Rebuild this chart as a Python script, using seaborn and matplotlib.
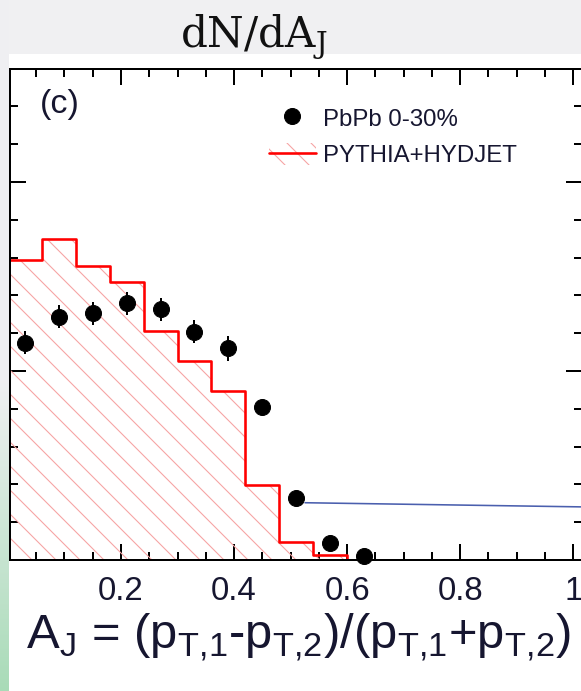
import numpy as np
import pandas as pd
import matplotlib
matplotlib.use("Agg")
import matplotlib.pyplot as plt
import seaborn as sns
from matplotlib.lines import Line2D
from matplotlib.patches import Patch
from matplotlib.ticker import MultipleLocator, FixedLocator, FixedFormatter

# ---------------- data ----------------
bin_edges = [0.0, 0.06, 0.12, 0.18, 0.24, 0.30, 0.36, 0.42, 0.48, 0.54, 0.60, 0.66]
sim_heights = [0.1587, 0.1697, 0.1556, 0.1469, 0.1212, 0.1054, 0.0896, 0.0397, 0.0094, 0.0026, 0.0]
data_x = [0.03, 0.09, 0.15, 0.21, 0.27, 0.33, 0.39, 0.45, 0.51, 0.57, 0.63]
data_y = [0.1150, 0.1287, 0.1305, 0.1358, 0.1326, 0.1208, 0.1120, 0.0808, 0.0326, 0.0092, 0.0021]
data_err = [0.006, 0.006, 0.006, 0.006, 0.006, 0.006, 0.0065, 0.004, 0.003, 0.002, 0.001]
annot_x = [0.5255, 1.0154]
annot_y = [0.0303, 0.0281]
xtick_values = [0.2, 0.4, 0.6, 0.8, 1.0]
xtick_labels = ["0.2", "0.4", "0.6", "0.8", "1"]
legend_labels = ["PbPb 0-30%", "PYTHIA+HYDJET"]
panel_label = "(c)"
title_text = r"dN/dA$_{\mathrm{J}}$"
xlabel_text = (r"A$_{\mathsf{J}}$ = (p$_{\mathsf{T{,}1}}$-p$_{\mathsf{T{,}2}}$)"
               r"/(p$_{\mathsf{T{,}1}}$+p$_{\mathsf{T{,}2}}$)")

# ---------------- style ----------------
sns.set_style("ticks")
plt.rcParams["font.family"] = ["Liberation Sans", "DejaVu Sans"]
plt.rcParams["mathtext.fontset"] = "custom"
plt.rcParams["mathtext.rm"] = "DejaVu Serif"
plt.rcParams["mathtext.sf"] = "Liberation Sans"
plt.rcParams["hatch.linewidth"] = 1.1

W, H, DPI = 581, 691, 72
fig = plt.figure(figsize=(W / DPI, H / DPI), dpi=DPI)

# background (slide decoration)
bg = fig.add_axes([0, 0, 1, 1], zorder=-10)
img = np.ones((H, W, 3))
img[:54, :, :] = (0.945, 0.945, 0.95)
t = np.linspace(0, 1, H)[:, None]
grey = np.array([0.94, 0.94, 0.95])
green = np.array([0.66, 0.86, 0.72])
w = np.clip((t - 0.55) / 0.45, 0, 1)
strip = grey * (1 - w) + green * w
img[:, :9, :] = strip[:, None, :] * np.ones((1, 9, 1))
bg.imshow(img, extent=[0, W, H, 0], aspect="auto", interpolation="bilinear")
bg.set_axis_off()

# main axes: px 10..582 horizontally, 69..560 vertically
ax = fig.add_axes([10 / W, (H - 560) / H, 572 / W, 491 / H])
ax.set_facecolor("white")

df_sim = pd.DataFrame({
    "AJ": [(a + b) / 2 for a, b in zip(bin_edges[:-1], bin_edges[1:])],
    "frac": sim_heights,
})
hatch_col = "#f6a4a4"
sns.histplot(data=df_sim, x="AJ", weights="frac", bins=bin_edges, element="step",
             fill=True, color=hatch_col, facecolor="none", edgecolor=hatch_col,
             hatch="\\", linewidth=0, ax=ax, zorder=1)
sns.histplot(data=df_sim, x="AJ", weights="frac", bins=bin_edges, element="step",
             fill=False, color="#ff0000", linewidth=2.6, ax=ax, zorder=2)

ax.errorbar(data_x, data_y, yerr=data_err, fmt="o", color="black", ms=16,
            elinewidth=2, capsize=0, zorder=5, clip_on=False)

ax.plot(annot_x, annot_y, color="#4a5fae", lw=1.6, zorder=4)

ax.set_xlim(0.0037, 1.0154)
ax.set_ylim(0, 0.25979)
ax.set_xlabel("")
ax.set_ylabel("")

ax.xaxis.set_major_locator(FixedLocator(xtick_values))
ax.xaxis.set_major_formatter(FixedFormatter(xtick_labels))
ax.xaxis.set_minor_locator(MultipleLocator(0.05))
ax.yaxis.set_major_locator(MultipleLocator(0.1))
ax.yaxis.set_minor_locator(MultipleLocator(0.02))
ax.tick_params(which="both", direction="in", top=True, right=True, width=2,
               color="black", labelleft=False)
ax.tick_params(which="major", length=16)
ax.tick_params(which="minor", length=8)
ax.tick_params(axis="x", labelsize=33, pad=16, labelcolor="#161630")
for s in ax.spines.values():
    s.set_linewidth(2)
    s.set_color("black")

# legend
h_data = Line2D([], [], marker="o", color="black", linestyle="none", markersize=16)
h_sim = (Patch(facecolor="none", edgecolor=hatch_col, hatch="\\", linewidth=0),
         Line2D([], [], color="#ff0000", lw=2.6))
ax.legend([h_data, h_sim], legend_labels, loc="upper left",
          bbox_to_anchor=((269 - 10) / 572, (560 - 107) / 491),
          frameon=False, fontsize=24, handlelength=1.95, handletextpad=0.3,
          labelspacing=0.52, borderpad=0, borderaxespad=0, handleheight=1.0,
          labelcolor="#161630")

ax.text((60 - 10) / 572, (560 - 105) / 491, panel_label, transform=ax.transAxes,
        ha="center", va="center", fontsize=34, color="#161630")

fig.text(254 / W, 1 - 47 / H, title_text, ha="center", va="baseline",
         fontsize=42, family="DejaVu Serif", color="#111111")
fig.text(298 / W, 1 - 648 / H, xlabel_text, ha="center", va="baseline",
         fontsize=49, color="#161630")

fig.savefig("out.png", dpi=DPI)
